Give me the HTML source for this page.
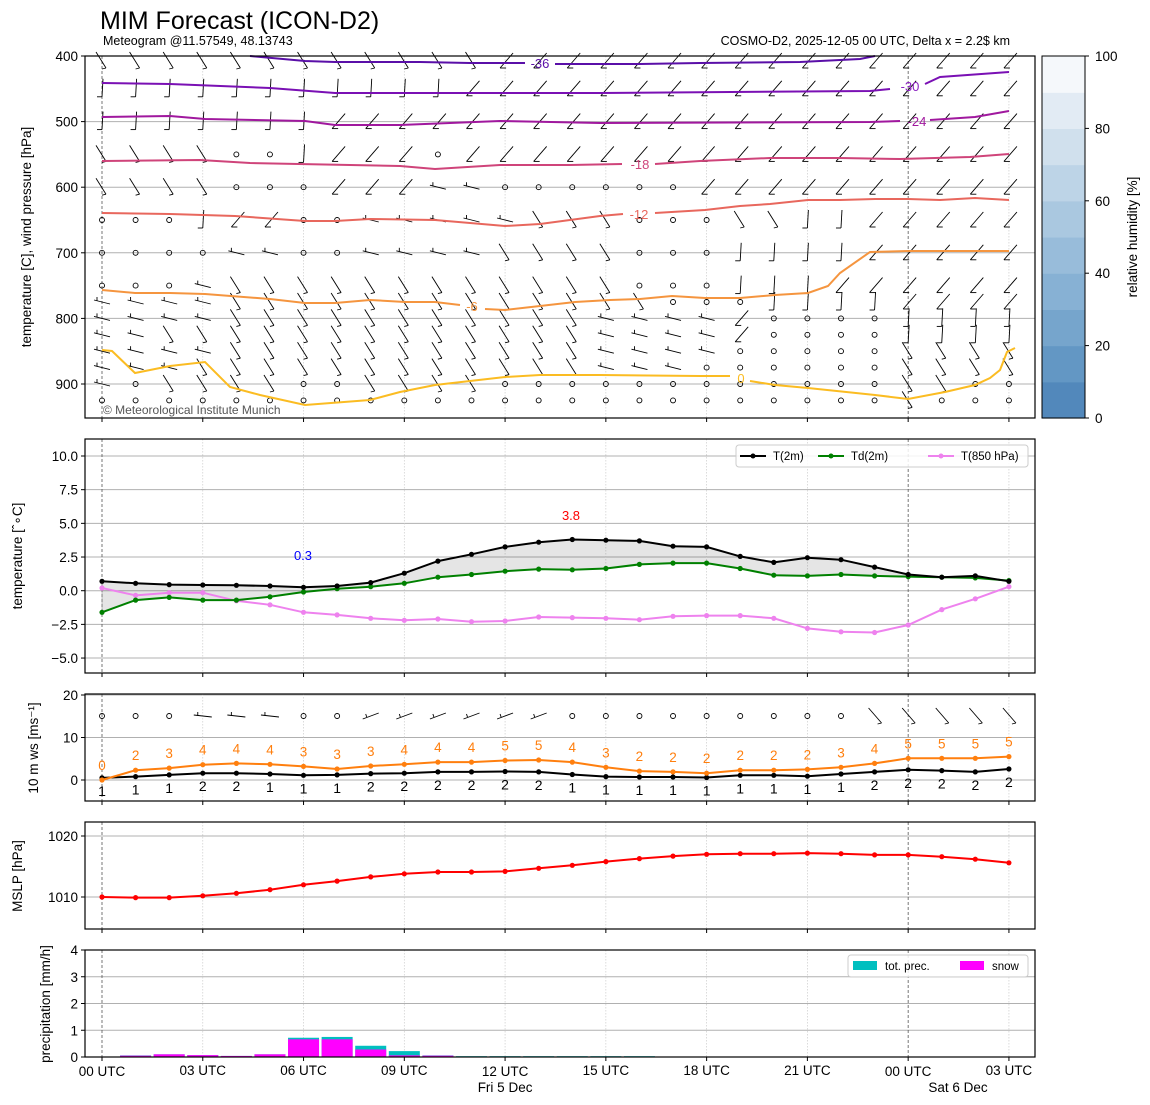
<!DOCTYPE html>
<html><head><meta charset="utf-8"><style>
html,body{margin:0;padding:0;background:#fff;width:1150px;height:1105px;overflow:hidden}
svg text{font-family:"Liberation Sans","DejaVu Sans",sans-serif}
</style></head><body>
<svg id="s" width="1150" height="1105" xmlns="http://www.w3.org/2000/svg"></svg>
<script>
var o=[];
function X(h){return 102+33.59*h;}
function line(x1,y1,x2,y2,st){o.push('<line x1="'+x1+'" y1="'+y1+'" x2="'+x2+'" y2="'+y2+'" '+st+'/>');}
function txt(x,y,s,sz,st){o.push('<text x="'+x+'" y="'+y+'" font-size="'+sz+'" '+(st||'')+'>'+s+'</text>');}
function poly(pts,st){o.push('<polyline points="'+pts.map(function(p){return p[0].toFixed(1)+','+p[1].toFixed(1)}).join(' ')+'" fill="none" '+st+'/>');}
var L=85,R=1035;
txt(100,29,'MIM Forecast (ICON-D2)',25);
txt(103,45,'Meteogram @11.57549, 48.13743',12.5);
txt(1010,45,'COSMO-D2, 2025-12-05 00 UTC, Delta x = 2.2$ km',12.5,'text-anchor="end"');
var P=[[56,418],[439,673],[694,801],[822,929],[950,1057]];
function vgrid(p){
 for(var h=0;h<=27;h+=3){
   var x=X(h);
   if(h==0||h==24) line(x,p[0],x,p[1],'stroke="#555" stroke-width="0.8" stroke-dasharray="3,2"');
   else line(x,p[0],x,p[1],'stroke="#ccc" stroke-width="0.7" stroke-dasharray="1.5,1.5"');
 }
}
function hgrid(p,y){line(L,y,R,y,'stroke="#b0b0b0" stroke-width="1"');}
function ytick(y,lab){line(L-4,y,L,y,'stroke="#000"');txt(L-7,y+5,lab,13.5,'text-anchor="end"');}
function xticks(p){for(var h=0;h<=27;h+=3)line(X(h),p[1],X(h),p[1]+4,'stroke="#000"');}
function frame(p){o.push('<rect x="'+L+'" y="'+p[0]+'" width="'+(R-L)+'" height="'+(p[1]-p[0])+'" fill="none" stroke="#000" stroke-width="1.2"/>');}
function ylab(x,y,s){o.push('<text transform="translate('+x+','+y+') rotate(-90)" font-size="13.5" text-anchor="middle">'+s+'</text>');}

var p=P[0];
function Yp(pr){return 56+(pr-400)*0.656;}
[500,600,700,800,900].forEach(function(v){hgrid(p,Yp(v));});
vgrid(p);
var lev=[400,450,500,550,600,650,700,750,775,800,825,850,875,900,925];
var rows=[
"aaaaaaaaaaaabbbbbbbbbbbbbbbb",
"vvvvvvvvvvvbbbbbbbbbbbbbbbbb",
"vvvvvvvbbbbbbbbbbbbbbbbbbbbb",
"aaaaoovbbbobbbbbbbbbbbbbbbbb",
"aaaaooobbbhhoooooobbbbbbbbbb",
"ooovbboohhhhhaaaoooaavvbbbbb",
"oooohhoohhhhaaaaooovvvvbbbbb",
"ooohaaaaaaaaaaaaooovvvbbbbbb",
"hhhhaaaaaaaaaaaaaooovvvvbbbb",
"hhhhaaaaaaaaaaahhhhboooovvvv",
"hhaaaaaaaaaaaaahhhhboooovvvv",
"hhhhaaaaaaaaaaahhhhoooooaaaa",
"hhhaaaaaaaaaaaahhhooooooaaaa",
"hoaaaaooaaaaooooooooooooaaoo",
"ooooooooooooooooooooooooaooo"];
var bs='stroke="#000" stroke-width="0.9" fill="none"';
function barb(x,y,c){
 if(c=='o'){o.push('<circle cx="'+x+'" cy="'+y+'" r="2.5" '+bs+'/>');return;}
 if(c=='a'){line(x-6,y-9,x+4,y+7,bs);line(x+4,y+7,x+0,y+8,bs);}
 if(c=='b'){line(x+8,y-8,x-5,y+7,bs);line(x-5,y+7,x+1,y+7,bs);}
 if(c=='v'){line(x+1,y-10,x,y+8,bs);line(x,y+8,x-5,y+8,bs);}
 if(c=='h'){line(x-8,y-2,x+8,y+2,bs);line(x-5,y-1,x-5,y-5,bs);}
}
rows.forEach(function(r,i){var y=Yp(lev[i]);if(i==0)y=61;for(var h=0;h<28;h++)barb(X(h),y,r[h]);});
function iso(pts,col,w){poly(pts,'stroke="'+col+'" stroke-width="'+(w||2)+'"');}
iso([[250,56],[305,61],[335,62],[420,62],[470,63],[525,63]],'#5a0fa8');
iso([[555,64],[640,64],[700,63],[800,62],[860,59],[875,56]],'#5a0fa8');
txt(540,68,'-36',13,'fill="#5a0fa8" text-anchor="middle"');
iso([[102,83],[170,84],[270,88],[335,93],[600,93],[870,91],[890,89]],'#7a10b4');
iso([[925,84],[940,77],[1009,72]],'#7a10b4');
txt(910,91,'-30',13,'fill="#8a20c0" text-anchor="middle"');
iso([[102,117],[170,116],[205,119],[305,121],[335,125],[400,125],[500,121],[600,123],[870,122],[900,121]],'#a0189e');
iso([[930,120],[975,117],[1009,111]],'#a0189e');
txt(917,126,'-24',13,'fill="#a0189e" text-anchor="middle"');
iso([[102,161],[200,160],[250,163],[400,166],[435,169],[500,165],[570,165],[622,164]],'#cf447a');
iso([[655,164],[700,161],[770,158],[840,158],[900,159],[970,157],[1009,154]],'#cf447a');
txt(640,169,'-18',13,'fill="#cf447a" text-anchor="middle"');
iso([[102,213],[170,214],[235,216],[305,221],[335,221],[370,219],[435,220],[505,226],[540,224],[600,216],[623,214]],'#e8675d');
iso([[655,213],[705,210],[740,206],[770,204],[808,200],[840,200],[875,199],[908,199],[940,200],[975,198],[1009,200]],'#e8675d');
txt(639,219,'-12',13,'fill="#e8675d" text-anchor="middle"');
iso([[102,290],[135,293],[170,293],[205,294],[270,299],[305,303],[335,303],[370,300],[405,302],[435,302],[460,305]],'#f5953f');
iso([[485,309],[505,310],[540,306],[575,302],[610,300],[640,299],[672,296],[705,298],[740,298],[775,295],[808,293],[828,286],[840,273],[870,252],[908,251],[975,251],[1009,251]],'#f5953f');
txt(472,311,'-6',13,'fill="#f5953f" text-anchor="middle"');
iso([[102,350],[112,351],[135,373],[170,366],[205,362],[230,387],[260,395],[305,405],[370,400],[400,392],[435,385],[470,381],[505,377],[540,375],[600,375],[700,376],[730,376]],'#fbbc22');
iso([[750,381],[775,385],[808,388],[875,395],[908,399],[945,392],[975,385],[990,378],[1000,370],[1007,352],[1015,348]],'#fbbc22');
txt(741,383,'0',13,'fill="#fbbc22" text-anchor="middle"');
txt(103,414,'© Meteorological Institute Munich',12,'fill="#555"');
[400,500,600,700,800,900].forEach(function(v){ytick(Yp(v),v);});
xticks(p);frame(p);
ylab(31,237,'temperature [C], wind pressure [hPa]');
var cc=['#5288bb','#6397c4','#76a5cc','#87b1d4','#98bcda','#aac8e0','#bdd4e7','#d0e0ed','#e2ebf4','#f5f8fb'];
for(var i=0;i<10;i++){var y1=418-(i+1)*36.2;o.push('<rect x="1042" y="'+y1+'" width="43" height="36.8" fill="'+cc[i]+'"/>');}
o.push('<rect x="1042" y="56" width="43" height="362" fill="none" stroke="#000" stroke-width="1"/>');
for(var i=0;i<=5;i++){var y=418-i*72.4;line(1085,y,1089,y,'stroke="#000"');txt(1095,y+5,i*20,13.5);}
ylab(1137,237,'relative humidity [%]');

p=P[1];
function Yt(v){return 590.7-v*13.47;}
[-5,-2.5,0,2.5,5,7.5,10].forEach(function(v){hgrid(p,Yt(v));});
vgrid(p);
var T=[0.7,0.55,0.45,0.42,0.4,0.35,0.25,0.35,0.6,1.3,2.2,2.7,3.25,3.6,3.8,3.75,3.7,3.3,3.25,2.55,2.1,2.45,2.3,1.75,1.2,1.0,1.1,0.7];
var Td=[-1.6,-0.7,-0.5,-0.7,-0.7,-0.45,-0.1,0.15,0.3,0.55,1.0,1.2,1.45,1.6,1.55,1.65,1.95,2.05,2.05,1.65,1.15,1.1,1.2,1.1,1.05,1.0,0.95,0.75];
var T8=[0.2,-0.35,-0.15,-0.15,-0.75,-1.05,-1.6,-1.8,-2.05,-2.2,-2.1,-2.3,-2.25,-1.95,-2.0,-2.05,-2.15,-1.9,-1.85,-1.85,-2.05,-2.8,-3.05,-3.1,-2.55,-1.4,-0.6,0.3];
var fp=T.map(function(v,i){return X(i).toFixed(1)+','+Yt(v).toFixed(1);}).concat(Td.map(function(v,i){return i;}).reverse().map(function(i){return X(i).toFixed(1)+','+Yt(Td[i]).toFixed(1);}));
o.push('<polygon points="'+fp.join(' ')+'" fill="#000" fill-opacity="0.1" stroke="#888" stroke-width="0.5"/>');
function series(arr,f,col,w){poly(arr.map(function(v,i){return [X(i),f(v)];}),'stroke="'+col+'" stroke-width="'+(w||2)+'"');arr.forEach(function(v,i){o.push('<circle cx="'+X(i).toFixed(1)+'" cy="'+f(v).toFixed(1)+'" r="2.6" fill="'+col+'"/>');});}
series(T8,Yt,'#ee82ee');series(Td,Yt,'#008000');series(T,Yt,'#000');
txt(571,520,'3.8',13,'fill="red" text-anchor="middle"');
txt(303,560,'0.3',13,'fill="blue" text-anchor="middle"');
o.push('<rect x="736" y="445" width="292" height="22" rx="3" fill="#fff" fill-opacity="0.85" stroke="#ccc"/>');
[[740,'#000','T(2m)'],[818,'#008000','Td(2m)'],[928,'#ee82ee','T(850 hPa)']].forEach(function(l){line(l[0],456,l[0]+26,456,'stroke="'+l[1]+'" stroke-width="2"');o.push('<circle cx="'+(l[0]+13)+'" cy="456" r="2.5" fill="'+l[1]+'"/>');txt(l[0]+33,460,l[2],11.5);});
[[-5,'−5.0'],[-2.5,'−2.5'],[0,'0.0'],[2.5,'2.5'],[5,'5.0'],[7.5,'7.5'],[10,'10.0']].forEach(function(v){ytick(Yt(v[0]),v[1]);});
xticks(p);frame(p);
ylab(22,556,'temperature [ˆ∘C]');

p=P[2];
function Yw(v){return 780-v*4.25;}
[0,10,20].forEach(function(v){hgrid(p,Yw(v));});
vgrid(p);
var wr="ooohhhoobbbbbboooooooooaaaaa";
for(var h=0;h<28;h++){var x=X(h),y=716,c=wr[h];
 if(c=='o')o.push('<circle cx="'+x+'" cy="'+y+'" r="2.5" '+bs+'/>');
 else if(c=='h'){line(x-9,y-1,x+9,y+1,bs);line(x-5,y,x-5,y-4,bs);}
 else if(c=='b'){line(x-8,y+3,x+8,y-3,bs);line(x-4,y+1,x-5,y-2,bs);}
 else {line(x-6,y-8,x+7,y+7,bs);line(x+7,y+7,x+3,y+8,bs);}
}
var G=[0,2.3,2.8,3.6,3.9,3.7,3.2,2.6,3.3,3.7,4.2,4.2,4.6,4.7,4.2,3.0,2.1,1.9,1.6,2.3,2.3,2.5,3.0,3.9,5.1,5.1,5.1,5.5];
var W=[0.5,0.8,1.2,1.6,1.6,1.4,1.1,1.2,1.5,1.6,1.9,1.9,2.0,1.9,1.3,0.8,0.7,0.7,0.6,1.1,1.1,0.9,1.4,1.9,2.4,2.2,1.9,2.6];
var GL=[0,2,3,4,4,4,3,3,3,4,4,4,5,5,4,3,2,2,2,2,2,2,3,4,5,5,5,5];
var WL=[1,1,1,2,2,1,1,1,2,2,2,2,2,2,1,1,1,1,1,1,1,1,1,2,2,2,2,2];
series(W,Yw,'#000');series(G,Yw,'#ff7f0e');
for(var h=0;h<28;h++){txt(X(h),Yw(G[h])-10,GL[h],13.5,'fill="#ff7f0e" text-anchor="middle"');txt(X(h),Yw(W[h])+18,WL[h],14,'text-anchor="middle"');}
[0,10,20].forEach(function(v){ytick(Yw(v),v);});
xticks(p);frame(p);
ylab(38,748,'10 m ws [ms⁻¹]');

p=P[3];
function Ym(v){return 897-(v-1010)*6.1;}
[1010,1020].forEach(function(v){hgrid(p,Ym(v));});
vgrid(p);
var M=[1010.0,1009.9,1009.9,1010.2,1010.6,1011.2,1012.0,1012.6,1013.3,1013.8,1014.1,1014.1,1014.2,1014.7,1015.2,1015.8,1016.3,1016.7,1017.0,1017.1,1017.1,1017.2,1017.1,1016.9,1016.9,1016.6,1016.2,1015.6];
series(M,Ym,'red');
[1010,1020].forEach(function(v){ytick(Ym(v),v);});
xticks(p);frame(p);
ylab(22,876,'MSLP [hPa]');

p=P[4];
function Yr(v){return 1057-v*26.75;}
[1,2,3,4].forEach(function(v){hgrid(p,Yr(v));});
vgrid(p);
var tot=[0,0.06,0.1,0.07,0.04,0.1,0.72,0.75,0.42,0.22,0.06,0.03,0.03,0.03,0.03,0.03,0.03,0,0,0,0,0,0,0,0,0,0,0];
var sn=[0,0.05,0.1,0.07,0.04,0.1,0.66,0.66,0.28,0.06,0.05,0,0,0,0,0,0,0,0,0,0,0,0,0,0,0,0,0];
for(var h=0;h<28;h++){if(tot[h]>0){var x=X(h)-15.5;o.push('<rect x="'+x+'" y="'+Yr(tot[h])+'" width="31" height="'+(tot[h]*26.75)+'" fill="#00bfbf"/>');}
 if(sn[h]>0){o.push('<rect x="'+(X(h)-15.5)+'" y="'+Yr(sn[h])+'" width="31" height="'+(sn[h]*26.75)+'" fill="#ff00ff"/>');}}
o.push('<rect x="848" y="955" width="180" height="22" rx="3" fill="#fff" fill-opacity="0.85" stroke="#ccc"/>');
o.push('<rect x="853" y="961" width="24" height="9" fill="#00bfbf"/>');txt(885,970,'tot. prec.',11.5);
o.push('<rect x="960" y="961" width="24" height="9" fill="#ff00ff"/>');txt(992,970,'snow',11.5);
[0,1,2,3,4].forEach(function(v){ytick(Yr(v),v);});
xticks(p);frame(p);
ylab(50,1004,'precipitation [mm/h]');
var lab=['00 UTC','03 UTC','06 UTC','09 UTC','12 UTC','15 UTC','18 UTC','21 UTC','00 UTC','03 UTC'];
for(var i=0;i<10;i++){var yy=(i==0||i==4||i==8)?1076:1075;txt(X(i*3),yy,lab[i],13.5,'text-anchor="middle"');}
txt(X(12),1092,'Fri 5 Dec',13.5,'text-anchor="middle"');
txt(958,1092,'Sat 6 Dec',13.5,'text-anchor="middle"');
document.getElementById('s').innerHTML=o.join('');
</script>
</body></html>
